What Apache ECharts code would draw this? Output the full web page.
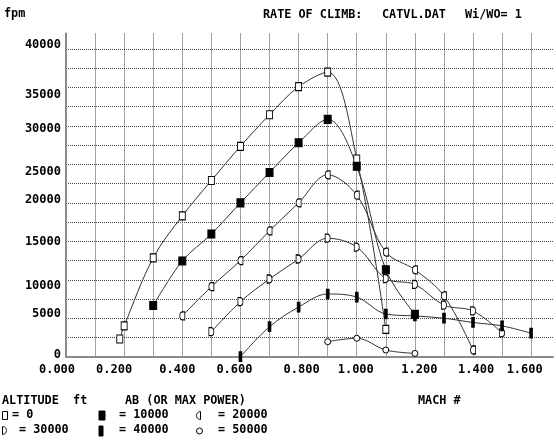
<!DOCTYPE html>
<html>
<head>
<meta charset="utf-8">
<script src="https://cdn.jsdelivr.net/npm/echarts@6/dist/echarts.min.js"></script>
<style>
  html, body { margin: 0; padding: 0; background: #fff; }
  #chart { width: 556px; height: 440px; }
</style>
</head>
<body>
<div id="chart"></div>
<script>
// Rate of climb (fpm) versus Mach number, one curve per altitude (AB / max power)
const altitudes = ['0', '10000', '20000', '30000', '40000', '50000'];

const mach0 = [0.185, 0.2, 0.3, 0.4, 0.5, 0.6, 0.7, 0.8, 0.9, 1.0, 1.1];
const roc0 = [2300, 4000, 12850, 18300, 22900, 27350, 31450, 35100, 37000, 25700, 3550];

const mach10000 = [0.3, 0.4, 0.5, 0.6, 0.7, 0.8, 0.9, 1.0, 1.1, 1.2];
const roc10000 = [6650, 12450, 15950, 20000, 23950, 27800, 30850, 24750, 11300, 5500];

const mach20000 = [0.4, 0.5, 0.6, 0.7, 0.8, 0.9, 1.0, 1.1, 1.2, 1.3, 1.4];
const roc20000 = [5300, 9100, 12500, 16350, 20000, 23650, 21000, 13600, 11300, 7900, 870];

const mach30000 = [0.5, 0.6, 0.7, 0.8, 0.9, 1.0, 1.1, 1.2, 1.3, 1.4, 1.5];
const roc30000 = [3250, 7150, 10100, 12700, 15400, 14250, 10150, 9400, 6700, 5950, 3100];

const mach40000 = [0.6, 0.7, 0.8, 0.9, 1.0, 1.1, 1.2, 1.3, 1.4, 1.5, 1.6];
const roc40000 = [0, 3900, 6450, 8150, 7750, 5550, 5300, 5000, 4450, 4000, 3050];

const mach50000 = [0.9, 1.0, 1.1, 1.2];
const roc50000 = [1950, 2400, 870, 430];

// Tick labels
const machLabels = ['0.000', '0.200', '0.400', '0.600', '0.800', '1.000', '1.200', '1.400', '1.600'];
const rocLabels = ['0', '5000', '10000', '15000', '20000', '25000', '30000', '35000', '40000'];

// Character-cell nudges of the tick labels (pixels)
const machLabelShift = [-9, -10, -5, -6, 3, -1, 4.5, 3, -6.5];
const rocLabelShift = [-2, -4, 6, 1, -3, 7, 3, 7.5, -4];

const FONT = '"DejaVu Sans Mono", "Liberation Mono", monospace';
const INK = '#000';

// Marker shapes
const HALF_LEFT = 'path://M5,0 L5,10 L3,10 C-1,10 -1,0 3,0 Z';
const HALF_RIGHT = 'path://M0,0 L2,0 C6,0 6,10 2,10 L0,10 Z';

const markerDefs = [
  { symbol: 'rect', size: [6, 8], fill: '#fff' },
  { symbol: 'rect', size: [7, 8], fill: '#000' },
  { symbol: HALF_LEFT, size: [5, 8], fill: '#fff' },
  { symbol: HALF_RIGHT, size: [5, 8], fill: '#fff' },
  { symbol: 'rect', size: [3, 9], fill: '#000' },
  { symbol: 'circle', size: 6, fill: '#fff' }
];

const machSets = [mach0, mach10000, mach20000, mach30000, mach40000, mach50000];
const rocSets = [roc0, roc10000, roc20000, roc30000, roc40000, roc50000];

const series = altitudes.map((name, i) => ({
  name: name,
  type: 'line',
  smooth: 0.35,
  data: machSets[i].map((m, k) => [m, rocSets[i][k]]),
  symbol: markerDefs[i].symbol,
  symbolSize: markerDefs[i].size,
  showAllSymbol: true,
  lineStyle: { color: '#333', width: 1 },
  itemStyle: { color: markerDefs[i].fill, borderColor: '#000', borderWidth: 1 },
  emphasis: { disabled: true },
  z: 3
}));

// Rich styles for shifted tick labels
const xRich = {};
machLabelShift.forEach((d, i) => {
  xRich['x' + i] = {
    fontFamily: FONT, fontSize: 12, fontWeight: 'bold', color: INK,
    padding: d >= 0 ? [0, 0, 0, 2 * d] : [0, -2 * d, 0, 0]
  };
});
const yRich = {};
rocLabelShift.forEach((d, i) => {
  yRich['y' + i] = {
    fontFamily: FONT, fontSize: 12, fontWeight: 'bold', color: INK,
    padding: d >= 0 ? [2 * d, 0, 0, 0] : [0, 0, -2 * d, 0]
  };
});

const textStyle = { fontFamily: FONT, fontSize: 11.8, fontWeight: 'bold', fill: INK };
function txt(x, y, s) {
  return { type: 'text', x: x, y: y, style: Object.assign({ text: s }, textStyle), silent: true };
}
function box(x, y, w, h, fill) {
  return { type: 'rect', shape: { x: x, y: y, width: w, height: h },
           style: { fill: fill, stroke: '#000', lineWidth: 1 }, silent: true };
}
// Half-ellipse outline used for the 20000 / 30000 ft legend keys
function halfEllipse(x, y, w, h, facingLeft) {
  const pts = [];
  const n = 12;
  for (let k = 0; k <= n; k++) {
    const a = -Math.PI / 2 + Math.PI * k / n;
    const dx = Math.cos(a) * w, dy = Math.sin(a) * h / 2;
    pts.push([facingLeft ? x + w - dx : x + dx, y + h / 2 + dy]);
  }
  return { type: 'polygon', shape: { points: pts },
           style: { fill: '#fff', stroke: '#000', lineWidth: 1 }, silent: true };
}

const chart = echarts.init(document.getElementById('chart'), null, { renderer: 'canvas' });
chart.setOption({
  animation: false,
  backgroundColor: '#fff',
  grid: { left: 66, right: 0, top: 33.6, bottom: 83.3, containLabel: false },
  xAxis: {
    type: 'value',
    min: 0,
    max: 1.675,
    interval: 0.1,
    axisLine: { show: true, onZero: false, lineStyle: { color: '#8a8a8a', width: 2 } },
    axisTick: { show: false },
    splitLine: { show: true, showMaxLine: false, lineStyle: { color: '#444', width: 1, type: [1, 1] } },
    axisLabel: {
      margin: 7,
      formatter: function (v) {
        const k = Math.round(v * 10);
        if (k % 2 !== 0 || Math.abs(v * 10 - k) > 1e-6) return '';
        const i = k / 2;
        if (i >= machLabels.length) return '';
        return '{x' + i + '|' + machLabels[i] + '}';
      },
      rich: xRich
    }
  },
  yAxis: {
    type: 'value',
    min: 0,
    max: 42000,
    interval: 2500,
    axisLine: { show: true, onZero: false, lineStyle: { color: '#8a8a8a', width: 2 } },
    axisTick: { show: false },
    splitLine: { show: true, showMaxLine: false, lineStyle: { color: '#444', width: 1, type: [1, 1] } },
    axisLabel: {
      margin: 5,
      formatter: function (v) {
        if (v % 5000 !== 0) return '';
        const i = v / 5000;
        if (i >= rocLabels.length) return '';
        return '{y' + i + '|' + rocLabels[i] + '}';
      },
      rich: yRich
    }
  },
  series: series,
  graphic: [
    txt(4, 8, 'fpm'),
    txt(263, 9, 'RATE OF CLIMB:'),
    txt(382, 9, 'CATVL.DAT'),
    txt(465, 9, 'Wi/WO= 1'),

    txt(2, 395, 'ALTITUDE  ft'),
    txt(125, 395, 'AB (OR MAX POWER)'),
    txt(418, 395, 'MACH #'),

    box(2.5, 411.5, 5, 8, '#fff'),
    txt(12, 409, '= 0'),
    box(99, 411, 6, 9, '#000'),
    txt(119, 409, '= 10000'),
    halfEllipse(196.5, 411.5, 4, 8, true),
    txt(218, 409, '= 20000'),

    halfEllipse(2.5, 426.5, 4, 8, false),
    txt(19, 424, '= 30000'),
    box(99, 426, 4, 10, '#000'),
    txt(119, 424, '= 40000'),
    { type: 'circle', shape: { cx: 199.5, cy: 431, r: 3 }, style: { fill: '#fff', stroke: '#000', lineWidth: 1 }, silent: true },
    txt(218, 424, '= 50000')
  ]
});
</script>
</body>
</html>
